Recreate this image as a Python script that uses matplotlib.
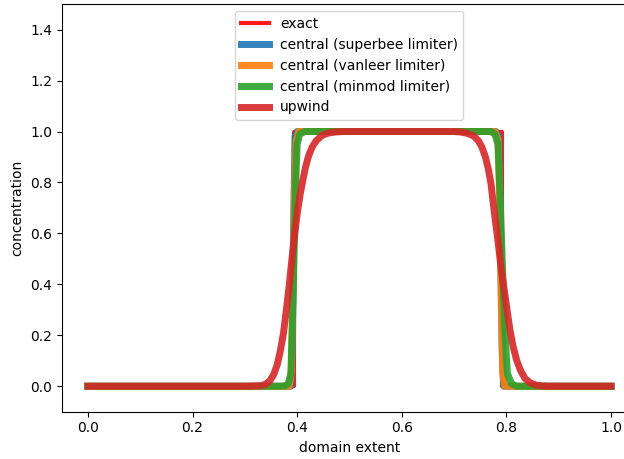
import matplotlib
matplotlib.use("Agg")
import matplotlib.pyplot as plt

# values
exact_x = [0.0, 0.394, 0.394, 0.791, 0.791, 1.0]
exact_c = [0.0, 0.0, 1.0, 1.0, 0.0, 0.0]

superbee_x = [0.0, 0.388, 0.391, 0.393, 0.396, 0.40, 0.78, 0.786, 0.789, 0.792, 0.795, 1.0]
superbee_c = [0.0, 0.0, 0.15, 0.6, 0.98, 1.0, 1.0, 0.98, 0.6, 0.15, 0.0, 0.0]

vanleer_x = [0.0, 0.385, 0.389, 0.392, 0.395, 0.398, 0.403, 0.778, 0.784, 0.787, 0.790, 0.793, 0.797, 1.0]
vanleer_c = [0.0, 0.0, 0.06, 0.4, 0.75, 0.96, 1.0, 1.0, 0.97, 0.75, 0.35, 0.05, 0.0, 0.0]

minmod_x = [0.0, 0.375, 0.383, 0.388, 0.391, 0.394, 0.397, 0.400, 0.405, 0.415,
            0.770, 0.778, 0.784, 0.788, 0.792, 0.797, 0.802, 0.810, 0.820, 1.0]
minmod_c = [0.0, 0.0, 0.01, 0.05, 0.25, 0.5, 0.78, 0.95, 0.99, 1.0,
            1.0, 0.99, 0.95, 0.75, 0.5, 0.22, 0.05, 0.01, 0.0, 0.0]

upwind_x = [0.0, 0.300, 0.330, 0.340, 0.348, 0.355, 0.362, 0.368, 0.374, 0.380,
            0.385, 0.389, 0.393, 0.397, 0.401, 0.406, 0.411, 0.416, 0.422, 0.429,
            0.437, 0.448, 0.460, 0.473, 0.490, 0.700, 0.712, 0.725, 0.737, 0.746,
            0.753, 0.760, 0.766, 0.771, 0.775, 0.779, 0.783, 0.786, 0.789, 0.793,
            0.798, 0.802, 0.807, 0.813, 0.820, 0.828, 0.836, 0.846, 0.858, 0.870,
            0.880, 1.0]
upwind_c = [0.0, 0.0, 0.002, 0.008, 0.022, 0.045, 0.085, 0.14, 0.21, 0.31,
            0.40, 0.48, 0.555, 0.625, 0.69, 0.756, 0.81, 0.86, 0.905, 0.94,
            0.965, 0.985, 0.994, 0.998, 1.0, 1.0, 0.998, 0.993, 0.983, 0.965,
            0.94, 0.90, 0.848, 0.79, 0.717, 0.65, 0.586, 0.535, 0.48, 0.42,
            0.35, 0.29, 0.22, 0.155, 0.10, 0.058, 0.03, 0.013, 0.004, 0.001,
            0.0, 0.0]

fig = plt.figure(figsize=(6.24, 4.59), dpi=100)
ax = fig.add_axes([0.099, 0.103, 0.922, 0.888])

style = dict(alpha=0.9, solid_joinstyle="round")
ax.plot(exact_x, exact_c, color="red", lw=3, label="exact", **style)
ax.plot(superbee_x, superbee_c, color="tab:blue", lw=5, label="central (superbee limiter)", **style)
ax.plot(vanleer_x, vanleer_c, color="tab:orange", lw=5, label="central (vanleer limiter)", **style)
ax.plot(minmod_x, minmod_c, color="tab:green", lw=5, label="central (minmod limiter)", **style)
ax.plot(upwind_x, upwind_c, color="tab:red", lw=5, label="upwind", **style)

ax.set_xlim(-0.05, 1.05)
ax.set_ylim(-0.1, 1.5)
ax.set_xlabel("domain extent")
ax.set_ylabel("concentration")
ax.legend(loc="upper center")

fig.savefig("out.png", dpi=100)
